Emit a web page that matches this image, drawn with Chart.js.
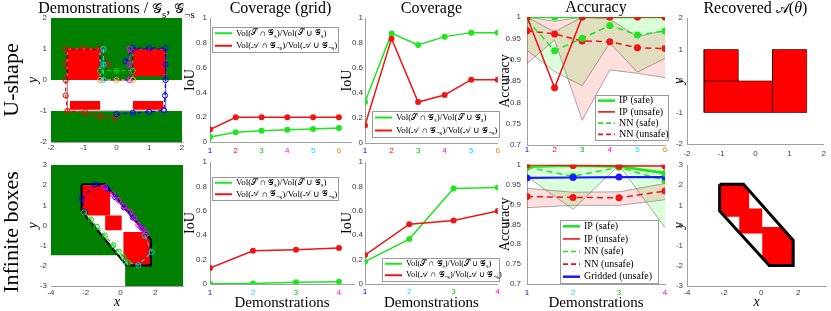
<!DOCTYPE html>
<html>
<head>
<meta charset="utf-8">
<script src="https://cdn.jsdelivr.net/npm/chart.js@4.4.0/dist/chart.umd.min.js"></script>
<style>
  html, body { margin: 0; padding: 0; background: #fff; }
  #wrap { position: relative; width: 831px; height: 311px; overflow: hidden; background: #fff; }
  canvas { position: absolute; }
</style>
</head>
<body>
<div id="wrap"></div>
<script>
// ---- demonstration counts and tick label colours
const demosU = [1, 2, 3, 4, 5, 6];
const demosB = [1, 2, 3, 4];
const tickColU = ['#0000ff', '#ff0000', '#00c800', '#ff00ff', '#00e5ff', '#ff8000'];
const tickColB = ['#0000ff', '#00e5ff', '#00c800', '#ff00ff'];

// ---- coverage (grid)
const gridSafeU = [0.040, 0.078, 0.091, 0.099, 0.105, 0.113];
const gridUnsafeU = [0.100, 0.200, 0.200, 0.200, 0.200, 0.200];
const gridSafeB = [0.003, 0.005, 0.014, 0.019];
const gridUnsafeB = [0.131, 0.273, 0.281, 0.295];

// ---- coverage
const covSafeU = [0.328, 0.877, 0.784, 0.851, 0.883, 0.883];
const covUnsafeU = [0.141, 0.835, 0.328, 0.384, 0.507, 0.507];
const covSafeB = [0.183, 0.368, 0.782, 0.790];
const covUnsafeB = [0.237, 0.490, 0.520, 0.599];

// ---- accuracy, U-shape
const ipSafeU = [1, 1, 1, 1, 1, 1];
const ipUnsafeU = [1, 0.834, 1, 1, 1, 1];
const nnSafeU = [0.993, 0.921, 0.950, 0.980, 0.958, 0.967];
const nnUnsafeU = [0.968, 0.960, 0.944, 0.942, 0.928, 0.926];
const nnSafeHiU = [1, 0.965, 1, 1, 1, 1];
const nnSafeLoU = [0.922, 0.872, 0.839, 0.939, 0.871, 0.903];
const nnUnsafeHiU = [1, 0.990, 1, 0.995, 0.954, 0.969];
const nnUnsafeLoU = [0.891, 0.946, 0.758, 0.876, 0.868, 0.858];

// ---- accuracy, infinite boxes
const ipSafeB = [0.995, 0.998, 0.996, 0.979];
const ipUnsafeB = [1, 0.998, 0.997, 0.997];
const nnSafeB = [0.994, 0.971, 0.994, 0.960];
const nnUnsafeB = [0.920, 0.918, 0.917, 0.934];
const griddedB = [0.967, 0.968, 0.969, 0.969];
const nnSafeHiB = [1, 1, 1, 1];
const nnSafeLoB = [0.970, 0.888, 0.999, 0.842];
const nnUnsafeHiB = [0.941, 0.931, 0.932, 0.953];
const nnUnsafeLoB = [0.892, 0.898, 0.898, 0.912];

// ---- tick values
const ticksIoU = [0, 0.2, 0.4, 0.6, 0.8, 1];
const ticksAcc = [0.7, 0.75, 0.8, 0.85, 0.9, 0.95, 1];
const ticks2 = [-2, -1, 0, 1, 2];
const ticks3 = [-3, -2, -1, 0, 1, 2, 3];
const ticksX4 = [-4, -2, 0, 2];

// ---- labels
const covLabels = ['Vol($S ∩ $G_{s})/Vol($S ∪ $G_{s})', 'Vol($A ∩ $G_{¬s})/Vol($A ∪ $G_{¬s})'];
const accLabels = ['IP (safe)', 'IP (unsafe)', 'NN (safe)', 'NN (unsafe)', 'Gridded (unsafe)'];

// ---- U-shape regions (x,y pairs)
const uBack = [[-2, -2], [2, -2], [2, 2], [-2, 2]];
const uWhite = [[-2, -1], [2, -1], [2, 0], [-2, 0]];
const uRed = [
  [[-1.53, 0], [-0.5, 0], [-0.5, 1.03], [-1.53, 1.03]],
  [[0.5, 0.12], [1.5, 0.12], [1.5, 1.03], [0.5, 1.03]],
  [[-1.42, -0.96], [-0.5, -0.96], [-0.5, -0.68], [-1.42, -0.68]],
  [[0.5, -0.96], [1.43, -0.96], [1.43, -0.68], [0.5, -0.68]]
];
const uOutline = [[-1.5, 1], [-0.5, 1], [-0.5, 0], [0.5, 0], [0.5, 1], [1.5, 1], [1.5, -1], [-1.5, -1]];
const uDashed = [[-1.5, 0], [-1.5, 1], [-0.5, 1], [-0.5, 0], [0.5, 0], [0.5, 1], [1.5, 1], [1.5, 0.1]];
const uDemos = [
  [[-0.25, 0.5], [-0.5, 1.02], [-1.0, 1.03], [-1.55, 1.0], [-1.55, 0.5], [-1.55, 0], [-1.55, -0.5], [-1.5, -1.0], [-0.95, -1.04], [-0.49, -1.17], [-0.03, -1.23]],
  [[0.27, 0.6], [0.5, 1.03], [1.0, 1.03], [1.5, 1.03], [1.5, 0.5], [1.5, 0], [1.48, -0.5], [1.45, -0.98], [1.0, -1.03], [0.5, -1.06], [0.0, -1.1]],
  [[-0.5, 0.3], [0, 0.3], [0.5, 0.3]],
  [[0.4, 1.0], [0.4, 0.5], [0.4, 0]],
  [[-0.4, 1.0], [-0.4, 0.5], [-0.4, 0]],
  [[-0.5, 0], [0, 0], [0.5, 0]]
];
const uDemoCol = ['#ff0000', '#0000ff', '#00dd00', '#ff00ff', '#00e5ff', '#ff9a40'];
const uRecovered = [
  [[-1.5, 0], [-0.5, 0], [-0.5, 1], [-1.5, 1]],
  [[-1.5, -1], [0.5, -1], [0.5, 0], [-1.5, 0]],
  [[0.5, -1], [1.5, -1], [1.5, 1], [0.5, 1]]
];

// ---- infinite boxes regions
const bBack = [[-4, -3], [3.6, -3], [3.6, 3], [-4, 3]];
const bWhiteCorner = [[-4, -3], [0.27, -3], [0.27, -1.48], [-4, -1.48]];
const bBand = [[-2.24, 2.04], [-0.9, 2.04], [1.75, -0.7], [1.75, -1.98], [0.35, -1.98], [-2.24, 0.72]];
const bRed = [
  [[-2.22, 2.0], [-0.9, 2.0], [-0.6, 1.7], [-0.6, 0.5], [-1.95, 0.5], [-2.22, 0.76]],
  [[-0.88, 0.5], [0.07, 0.5], [0.07, -0.23], [-0.88, -0.23]],
  [[0.17, -0.32], [1.3, -0.32], [1.75, -0.72], [1.75, -1.98], [0.5, -1.98], [0.17, -1.65]]
];
const bDemos = [
  [[-2.05, 0.65], [-2.22, 1.34], [-1.46, 2.04], [-0.79, 1.84], [-0.3, 1.4], [0.2, 0.9], [0.7, 0.4], [1.2, -0.1]],
  [[1.4, -0.5], [1.8, -1.31], [1.03, -1.97], [0.27, -1.78]],
  [[-2.1, 0.65], [-1.7, 0.3], [-1.36, -0.07], [-0.9, -0.5], [-0.41, -0.98], [-0.1, -1.3], [0.17, -1.56], [0.45, -1.85]],
  [[-0.9, 1.9], [-0.45, 1.55], [-0.12, 1.26], [0.2, 0.95], [0.55, 0.68], [0.8, 0.35], [1.03, 0.02], [1.3, -0.2], [1.51, -0.4]]
];
const bDemoCol = ['#0000ff', '#00d0d0', '#00dd00', '#ff00ff'];
const bRecovered = [[-2.24, 2.04], [-0.95, 2.04], [-0.65, 1.73], [-0.65, 0.84], [0.06, 0.84], [0.06, -0.07], [1.10, -0.07], [1.73, -0.73], [1.73, -1.98], [0.44, -1.98], [0.06, -1.60], [0.06, -0.40], [-1.13, -0.40], [-1.18, -0.35], [-1.18, 0.43], [-1.95, 0.43], [-2.24, 0.72]];
const bRecOutline = [[-2.24, 2.04], [-0.95, 2.04], [1.73, -0.73], [1.73, -1.98], [0.44, -1.98], [-2.24, 0.72]];

// ---------------------------------------------------------------
const GREEN = '#1ee61e', RED = '#f01414', BLUE = '#1a1aff';
const SERIF = '"Liberation Serif", serif';
const CAL = { S: '\u{1D4AE}', G: '\u{1D4A2}', A: '\u{1D49C}' };
const wrap = document.getElementById('wrap');

const pts = (xs, ys) => xs.map((x, i) => ({ x, y: ys[i] }));
const xy = arr => arr.map(([x, y]) => ({ x, y }));

function richParts(s) {
  const out = [], re = /_\{([^}]*)\}|~\{([^}]*)\}|\$([A-Z])|([^_~$]+)/g;
  let m;
  while ((m = re.exec(s))) {
    if (m[1] != null) out.push({ t: m[1], k: 'sub' });
    else if (m[2] != null) out.push({ t: m[2], k: 'it' });
    else if (m[3] != null) out.push({ t: CAL[m[3]], k: 'cal' });
    else out.push({ t: m[4], k: 'n' });
  }
  return out;
}
function fontFor(k, size) {
  if (k === 'sub') return (size * 0.68).toFixed(1) + 'px ' + SERIF;
  if (k === 'it') return 'italic ' + size + 'px ' + SERIF;
  if (k === 'cal') return (size * 0.9).toFixed(1) + 'px ' + SERIF;
  return size + 'px ' + SERIF;
}
function drawRich(ctx, s, x, y, size, align) {
  const parts = richParts(s);
  let w = 0;
  parts.forEach(p => { ctx.font = fontFor(p.k, size); p.w = ctx.measureText(p.t).width; w += p.w; });
  let cx = align === 'center' ? x - w / 2 : x;
  parts.forEach(p => {
    ctx.font = fontFor(p.k, size);
    ctx.fillText(p.t, cx, y + (p.k === 'sub' ? size * 0.3 : 0));
    cx += p.w;
  });
}

function drawLegend(ctx, L, ox, oy) {
  const x = L.box[0] - ox, y = L.box[1] - oy, w = L.box[2], h = L.box[3];
  ctx.fillStyle = '#fff';
  ctx.fillRect(x, y, w, h);
  ctx.strokeStyle = '#9a9a9a';
  ctx.lineWidth = 1;
  ctx.strokeRect(x + 0.5, y + 0.5, w, h);
  const rowH = h / L.items.length;
  L.items.forEach((it, i) => {
    const cy = y + rowH * (i + 0.5);
    ctx.beginPath();
    ctx.setLineDash(it.dash || []);
    ctx.strokeStyle = it.color;
    ctx.lineWidth = it.lw || 2;
    ctx.moveTo(x + 3, cy);
    ctx.lineTo(x + 3 + L.sample, cy);
    ctx.stroke();
    ctx.setLineDash([]);
    ctx.fillStyle = '#000';
    ctx.textBaseline = 'middle';
    drawRich(ctx, it.text, x + 7 + L.sample, cy, L.size, 'left');
  });
}

function decor(p) {
  const [ox, oy] = p.rect;
  return {
    id: 'decor',
    afterDraw(chart) {
      const ctx = chart.ctx, a = chart.chartArea;
      ctx.save();
      ctx.fillStyle = '#000';
      if (p.title) {
        ctx.textBaseline = 'alphabetic';
        drawRich(ctx, p.title, (a.left + a.right) / 2, a.top - 5, 16, 'center');
      }
      if (p.row) {
        ctx.save();
        ctx.translate(p.row[1] - ox, p.row[2] - oy);
        ctx.rotate(-Math.PI / 2);
        ctx.textBaseline = 'middle';
        drawRich(ctx, p.row[0], 0, 0, 22, 'center');
        ctx.restore();
      }
      if (p.legend) drawLegend(ctx, p.legend, ox, oy);
      ctx.restore();
    }
  };
}

function axis(min, max, ticks, o = {}) {
  return {
    type: 'linear', min, max,
    afterBuildTicks: s => { s.ticks = ticks.map(v => ({ value: v })); },
    grid: { display: false, drawTicks: false },
    border: { display: true, color: '#a0a0a0', width: 1 },
    ticks: {
      autoSkip: false, maxRotation: 0,
      font: { family: '"Liberation Sans", sans-serif', size: 8 },
      color: o.colors ? c => o.colors[c.index] : '#3a3a3a',
      padding: o.tp != null ? o.tp : 3,
      callback: v => String(Math.round(v * 100) / 100)
    },
    title: o.title ? {
      display: true, text: o.title, color: '#000',
      font: { family: SERIF, size: o.ts || 14, style: o.italic ? 'italic' : 'normal', lineHeight: 1 },
      padding: { top: o.pad || 0, bottom: o.pad || 0 }
    } : { display: false }
  };
}

function makeChart(p) {
  const [cx, cy, cw, ch] = p.rect;
  const [l, t, r, b] = p.plot;
  const c = document.createElement('canvas');
  c.width = cw; c.height = ch;
  c.style.left = cx + 'px'; c.style.top = cy + 'px';
  c.style.width = cw + 'px'; c.style.height = ch + 'px';
  wrap.appendChild(c);
  p.x.afterFit = s => { s.height = cy + ch - b; };
  p.y.afterFit = s => { s.width = l - cx; };
  return new Chart(c, {
    type: 'line',
    data: { datasets: p.datasets.map((d, i) => Object.assign({ order: -i, tension: 0 }, d)) },
    options: {
      responsive: false, animation: false, devicePixelRatio: 1, events: [],
      layout: { autoPadding: false, padding: { left: 0, top: t - cy, right: cx + cw - r, bottom: 0 } },
      plugins: { legend: { display: false }, tooltip: { enabled: false } },
      scales: { x: p.x, y: p.y }
    },
    plugins: [decor(p)]
  });
}

// dataset helpers
function shape(poly, fillCol, stroke, lw, dash) {
  return {
    data: xy(poly.concat([poly[0]])), fill: fillCol ? 'shape' : false,
    backgroundColor: fillCol || 'transparent', borderColor: stroke || 'transparent',
    borderWidth: lw || 0, borderDash: dash || [], pointRadius: 0
  };
}
function openLine(poly, col, lw, dash) {
  return { data: xy(poly), fill: false, borderColor: col, borderWidth: lw, borderDash: dash || [], pointRadius: 0 };
}
function path(poly, col) {
  return {
    data: xy(poly), fill: false, borderColor: col, borderWidth: 1.2, borderDash: [4, 3],
    pointRadius: 2.6, pointBorderWidth: 1, pointBorderColor: col, pointBackgroundColor: 'transparent'
  };
}
function series(xs, ys, col, o = {}) {
  return {
    data: pts(xs, ys), fill: false, borderColor: col, borderWidth: o.lw || 1.5,
    borderDash: o.dash || [], pointRadius: o.r || 3, pointBackgroundColor: col,
    pointBorderColor: col, pointBorderWidth: 0
  };
}
function band(xs, hi, lo, col) {
  return [
    { data: pts(xs, hi), fill: '+1', backgroundColor: col, borderColor: 'rgba(110,110,110,0.85)', borderWidth: 0.7, pointRadius: 0 },
    { data: pts(xs, lo), fill: false, borderColor: 'rgba(110,110,110,0.85)', borderWidth: 0.7, pointRadius: 0 }
  ];
}

const covLegend = (box, size) => ({
  box, sample: 17, size: size || 9,
  items: [{ text: covLabels[0], color: GREEN, lw: 2 }, { text: covLabels[1], color: RED, lw: 2 }]
});
const accItems = [
  { text: accLabels[0], color: GREEN, lw: 2.5 },
  { text: accLabels[1], color: RED, lw: 1.6 },
  { text: accLabels[2], color: GREEN, lw: 1.6, dash: [5, 3] },
  { text: accLabels[3], color: RED, lw: 1.6, dash: [5, 3] },
  { text: accLabels[4], color: BLUE, lw: 2.5 }
];

// ---------------- column A: demonstrations
makeChart({
  rect: [0, 0, 210, 160], plot: [51, 18, 182, 142],
  title: 'Demonstrations / $G_{s}, $G_{¬s}', row: ['U-shape', 12, 80],
  x: axis(-2, 2, ticks2, { tp: 1 }),
  y: axis(-2, 2, ticks2, { title: 'y', italic: true, pad: 26, tp: 4 }),
  datasets: [
    shape(uBack, '#008000'),
    shape(uWhite, '#ffffff'),
    ...uRed.map(r => shape(r, '#ff0000')),
    shape(uOutline, null, '#8c8c8c', 1),
    openLine(uDashed, '#000', 1.2, [4, 3]),
    ...uDemos.map((d, i) => path(d, uDemoCol[i]))
  ]
});
makeChart({
  rect: [0, 154, 205, 157], plot: [51, 165, 183, 286],
  row: ['Infinite boxes', 12, 232],
  x: axis(-4, 3.6, ticksX4, { title: 'x', italic: true, pad: 2, tp: 2 }),
  y: axis(-3, 3, ticks3, { title: 'y', italic: true, pad: 26, tp: 4 }),
  datasets: [
    shape(bBack, '#008000'),
    shape(bWhiteCorner, '#ffffff'),
    shape(bBand, '#ffffff'),
    ...bRed.map(r => shape(r, '#ff0000')),
    shape(bBand, null, '#000', 2),
    ...bDemos.map((d, i) => path(d, bDemoCol[i]))
  ]
});

// ---------------- column B: coverage (grid)
makeChart({
  rect: [183, 0, 176, 160], plot: [210, 18, 351, 142],
  title: 'Coverage (grid)', legend: covLegend([212, 27, 126, 25]),
  x: axis(1, 6.47, demosU, { colors: tickColU, tp: 4 }),
  y: axis(0, 1, ticksIoU, { title: 'IoU', pad: 0, tp: 3 }),
  datasets: [series(demosU, gridSafeU, GREEN), series(demosU, gridUnsafeU, RED)]
});
makeChart({
  rect: [183, 154, 176, 157], plot: [210, 162, 354, 284],
  legend: covLegend([212, 177, 126, 23]),
  x: axis(1, 4.35, demosB, { colors: tickColB, title: 'Demonstrations', ts: 15, pad: 0, tp: 4 }),
  y: axis(0, 1, ticksIoU, { title: 'IoU', pad: 0, tp: 3 }),
  datasets: [series(demosB, gridSafeB, GREEN), series(demosB, gridUnsafeB, RED)]
});

// ---------------- column C: coverage
makeChart({
  rect: [338, 0, 165, 160], plot: [365, 18, 498, 143],
  title: 'Coverage', legend: covLegend([372, 111, 127, 26]),
  x: axis(1, 6, demosU, { colors: tickColU, tp: 3 }),
  y: axis(0, 1, ticksIoU, { title: 'IoU', pad: 2, tp: 2 }),
  datasets: [series(demosU, covSafeU, GREEN), series(demosU, covUnsafeU, RED)]
});
makeChart({
  rect: [338, 154, 165, 157], plot: [365, 162, 499, 284],
  legend: covLegend([382, 258, 117, 23], 8.4),
  x: axis(1, 4, demosB, { colors: tickColB, title: 'Demonstrations', ts: 15, pad: 0, tp: 3 }),
  y: axis(0, 1, ticksIoU, { title: 'IoU', pad: 2, tp: 2 }),
  datasets: [series(demosB, covSafeB, GREEN), series(demosB, covUnsafeB, RED)]
});

// ---------------- column D: accuracy
makeChart({
  rect: [498, 0, 174, 160], plot: [527, 17, 665, 145],
  title: 'Accuracy',
  legend: { box: [595, 95, 73, 45], sample: 17, size: 10, items: accItems.slice(0, 4) },
  x: axis(1, 6, demosU, { colors: tickColU, tp: 0 }),
  y: axis(0.7, 1, ticksAcc, { title: 'Accuracy', pad: 0, tp: 6 }),
  datasets: [
    ...band(demosU, nnSafeHiU, nnSafeLoU, 'rgba(0,255,0,0.14)'),
    ...band(demosU, nnUnsafeHiU, nnUnsafeLoU, 'rgba(255,0,0,0.13)'),
    series(demosU, nnUnsafeU, RED, { dash: [6, 4], r: 3.5 }),
    series(demosU, nnSafeU, GREEN, { dash: [6, 4], r: 3.5 }),
    series(demosU, ipSafeU, GREEN, { lw: 2.6, r: 3.5 }),
    series(demosU, ipUnsafeU, RED, { lw: 1.5, r: 3.5 })
  ]
});
makeChart({
  rect: [498, 154, 174, 157], plot: [527, 162, 665, 284],
  legend: { box: [560, 220, 98, 63], sample: 17, size: 10, items: accItems },
  x: axis(1, 4, demosB, { colors: tickColB, title: 'Demonstrations', ts: 15, pad: 0, tp: 4 }),
  y: axis(0.7, 1, ticksAcc, { title: 'Accuracy', pad: 0, tp: 6 }),
  datasets: [
    ...band(demosB, nnSafeHiB, nnSafeLoB, 'rgba(0,255,0,0.14)'),
    ...band(demosB, nnUnsafeHiB, nnUnsafeLoB, 'rgba(255,0,0,0.13)'),
    series(demosB, nnUnsafeB, RED, { dash: [6, 4], r: 3.5 }),
    series(demosB, nnSafeB, GREEN, { dash: [6, 4], r: 3.5 }),
    series(demosB, griddedB, BLUE, { lw: 2.2, r: 3.5 }),
    series(demosB, ipSafeB, GREEN, { lw: 2.6, r: 3.5 }),
    series(demosB, ipUnsafeB, RED, { lw: 1.5, r: 3.5 })
  ]
});

// ---------------- column E: recovered constraint
makeChart({
  rect: [668, 0, 163, 160], plot: [687, 18, 828, 144],
  title: 'Recovered $A(~{θ})',
  x: axis(-2, 2, ticks2, { tp: 5 }),
  y: axis(-2, 2, ticks2, { title: 'y', italic: true, pad: 4, tp: 4 }),
  datasets: uRecovered.map(r => shape(r, '#ff0000', 'rgba(50,0,0,0.8)', 0.8))
});
makeChart({
  rect: [668, 154, 163, 157], plot: [687, 165, 826, 286],
  x: axis(-4, 3.5, ticksX4, { title: 'x', italic: true, pad: 2, tp: 2 }),
  y: axis(-3, 3, ticks3, { title: 'y', italic: true, pad: 4, tp: 4 }),
  datasets: [shape(bRecovered, '#ff0000'), shape(bRecOutline, null, '#000', 3)]
});
</script>
</body>
</html>
